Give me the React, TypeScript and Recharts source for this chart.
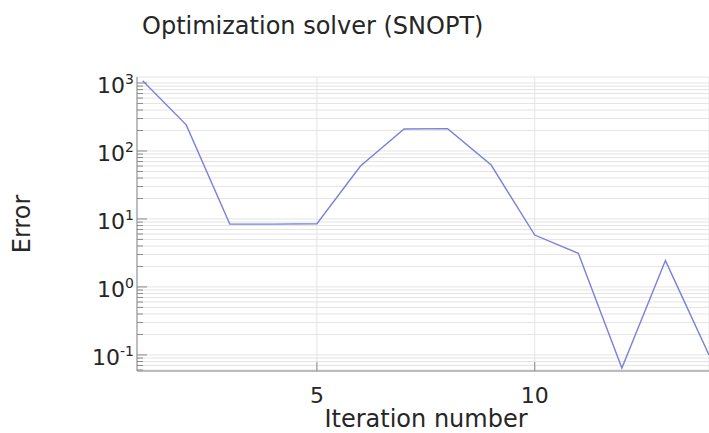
import { CartesianGrid, Line, LineChart, XAxis, YAxis } from "recharts";

const iterations = [1, 2, 3, 4, 5, 6, 7, 8, 9, 10, 11, 12, 13, 14];
const errors = [1080, 242, 8.4, 8.4, 8.5, 60, 211, 213, 62, 5.8, 3.13, 0.064, 2.44, 0.1];

const xTicks = [5, 10];
const yMajorTicks = [0.1, 1, 10, 100, 1000];
const yMajorLabels = ["-1", "0", "1", "2", "3"];
const yMinorTicks = [
  0.06, 0.07, 0.08, 0.09,
  0.2, 0.3, 0.4, 0.5, 0.6, 0.7, 0.8, 0.9,
  2, 3, 4, 5, 6, 7, 8, 9,
  20, 30, 40, 50, 60, 70, 80, 90,
  200, 300, 400, 500, 600, 700, 800, 900,
];
const yTicks = [...yMajorTicks, ...yMinorTicks].sort((a, b) => a - b);

const data = iterations.map((it, i) => ({ it, error: errors[i] }));

const FONT = "'DejaVu Sans', sans-serif";
const TEXT = "#262626";
const FRAME = "#8a8a8a";
const X_DOMAIN: [number, number] = [0.87, 14];
const Y_DOMAIN: [number, number] = [0.058, 1225];

function majorIndex(v: number) {
  return yMajorTicks.findIndex((m) => Math.abs(m - v) < 1e-9);
}

function LeftTick(props: any) {
  const { x, y, payload } = props;
  const idx = majorIndex(payload.value);
  const len = idx >= 0 ? 10 : 6;
  return (
    <g>
      <line x1={x} x2={x + len} y1={y} y2={y} stroke={FRAME} strokeWidth={1} />
      {idx >= 0 && (
        <text x={x - 3} y={y + 10} textAnchor="end" fontSize={22} fill={TEXT} fontFamily={FONT}>
          <tspan>10</tspan>
          <tspan dy={-9} fontSize={14}>
            {yMajorLabels[idx]}
          </tspan>
        </text>
      )}
    </g>
  );
}

function RightTick(props: any) {
  const { x, y, payload } = props;
  const len = majorIndex(payload.value) >= 0 ? 10 : 6;
  return <line x1={x} x2={x - len} y1={y} y2={y} stroke={FRAME} strokeWidth={1} />;
}

function BottomTick(props: any) {
  const { x, y, payload } = props;
  return (
    <g>
      <line x1={x} x2={x} y1={y} y2={y - 9} stroke={FRAME} strokeWidth={1} />
      <text x={x} y={y + 32} textAnchor="middle" fontSize={22} fill={TEXT} fontFamily={FONT}>
        {payload.value}
      </text>
    </g>
  );
}

function TopTick(props: any) {
  const { x, y } = props;
  return <line x1={x} x2={x} y1={y} y2={y + 9} stroke={FRAME} strokeWidth={1} />;
}

export default function App() {
  return (
    <div
      style={{
        position: "absolute",
        left: 0,
        top: 0,
        width: 709,
        height: 433,
        background: "#fff",
        fontFamily: FONT,
        color: TEXT,
        overflow: "hidden",
      }}
    >
      <div
        style={{
          position: "absolute",
          left: 142,
          top: 12,
          fontSize: 24,
          lineHeight: "28px",
          whiteSpace: "nowrap",
        }}
      >
        Optimization solver (SNOPT)
      </div>
      <div
        style={{
          position: "absolute",
          left: 426,
          top: 405,
          transform: "translateX(-50%)",
          fontSize: 24,
          lineHeight: "28px",
          whiteSpace: "nowrap",
        }}
      >
        Iteration number
      </div>
      <div
        style={{
          position: "absolute",
          left: 22,
          top: 224,
          transform: "translate(-50%, -50%) rotate(-90deg)",
          fontSize: 24,
          lineHeight: "28px",
          whiteSpace: "nowrap",
        }}
      >
        Error
      </div>
      <LineChart
        width={709}
        height={433}
        data={data}
        margin={{ top: 77, right: 0, bottom: 0, left: 0 }}
        style={{ position: "absolute", left: 0, top: 0 }}
      >
        <CartesianGrid stroke="#e4e4e4" strokeWidth={1} />
        <XAxis
          dataKey="it"
          type="number"
          domain={X_DOMAIN}
          allowDataOverflow
          ticks={xTicks}
          height={62}
          tickSize={0}
          tickMargin={0}
          tickLine={false}
          axisLine={{ stroke: FRAME }}
          tick={<BottomTick />}
        />
        <XAxis
          xAxisId="top"
          orientation="top"
          dataKey="it"
          type="number"
          domain={X_DOMAIN}
          allowDataOverflow
          ticks={xTicks}
          height={0}
          tickSize={0}
          tickMargin={0}
          tickLine={false}
          axisLine={{ stroke: FRAME }}
          tick={<TopTick />}
        />
        <YAxis
          type="number"
          scale="log"
          domain={Y_DOMAIN}
          allowDataOverflow
          ticks={yTicks}
          interval={0}
          width={137}
          tickSize={0}
          tickMargin={0}
          tickLine={false}
          axisLine={{ stroke: FRAME }}
          tick={<LeftTick />}
        />
        <YAxis
          yAxisId="right"
          orientation="right"
          type="number"
          scale="log"
          domain={Y_DOMAIN}
          allowDataOverflow
          ticks={yTicks}
          interval={0}
          width={0}
          tickSize={0}
          tickMargin={0}
          tickLine={false}
          axisLine={{ stroke: FRAME }}
          tick={<RightTick />}
        />
        <Line
          type="linear"
          dataKey="error"
          stroke="#7c80d8"
          strokeWidth={1.4}
          dot={false}
          activeDot={false}
          isAnimationActive={false}
        />
      </LineChart>
    </div>
  );
}
